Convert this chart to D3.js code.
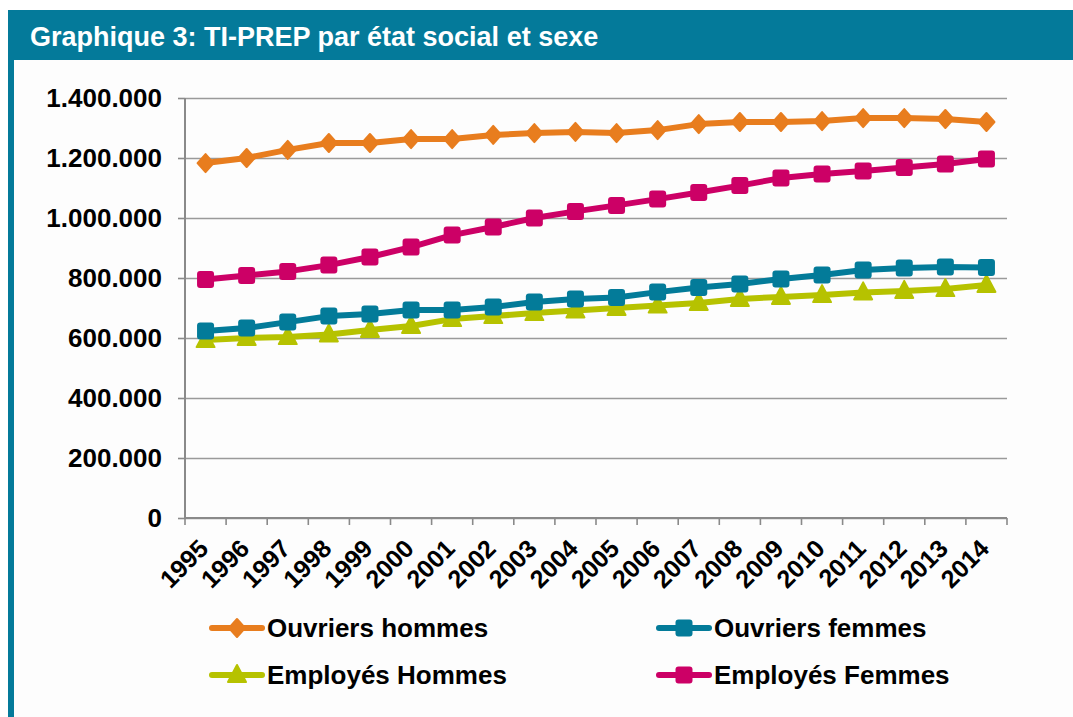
<!DOCTYPE html>
<html lang="fr">
<head>
<meta charset="UTF-8">
<script src="https://cdnjs.cloudflare.com/ajax/libs/d3/7.8.5/d3.min.js"></script>
<title>Graphique 3</title>
<style>
  body { margin: 0; background: #fff; }
  svg text { font-family: "Liberation Sans", Arial, sans-serif; font-weight: bold; }
</style>
</head>
<body>
<div id="chart"></div>
<script>
  // data
  var years = ["1995","1996","1997","1998","1999","2000","2001","2002","2003","2004",
               "2005","2006","2007","2008","2009","2010","2011","2012","2013","2014"];
  var ouvriersHommes = [1183000,1200000,1227000,1250000,1250000,1263000,1263000,1277000,1283000,1287000,
                        1283000,1293000,1313000,1320000,1320000,1323000,1333000,1333000,1330000,1320000];
  var ouvriersFemmes = [623000,633000,653000,673000,680000,693000,693000,703000,720000,730000,
                        735000,753000,768000,780000,797000,810000,827000,833000,837000,835000];
  var employesHommes = [593000,600000,603000,612000,627000,640000,663000,673000,683000,692000,
                        700000,708000,717000,730000,737000,743000,752000,757000,763000,777000];
  var employesFemmes = [795000,808000,822000,843000,870000,903000,943000,970000,1000000,1022000,
                        1042000,1063000,1085000,1108000,1133000,1147000,1157000,1168000,1180000,1197000];
  var yTicks = [0,200000,400000,600000,800000,1000000,1200000,1400000];

  var series = [
    {name:"Ouvriers hommes", values:ouvriersHommes, color:"#e87d1e", symbol:"diamond"},
    {name:"Ouvriers femmes", values:ouvriersFemmes, color:"#037b99", symbol:"square"},
    {name:"Employés Hommes", values:employesHommes, color:"#b6c200", symbol:"triangle"},
    {name:"Employés Femmes", values:employesFemmes, color:"#cc0066", symbol:"square"}
  ];
  var drawOrder = [2,1,3,0];

  const width = 1073, height = 717;
  const margin = {top: 98, right: 66, bottom: 199, left: 185};
  const graphWidth = width - margin.left - margin.right;
  const graphHeight = height - margin.top - margin.bottom;

  const svg = d3.select("#chart").append("svg")
      .attr("width", width).attr("height", height);

  // frame and title bar
  svg.append("rect").attr("x",8).attr("y",10).attr("width",width-8).attr("height",height-10)
      .attr("fill","#fdfdfd");
  svg.append("rect").attr("x",8).attr("y",60).attr("width",6).attr("height",height-60)
      .attr("fill","#047a9a");
  svg.append("rect").attr("x",8).attr("y",10).attr("width",width-8).attr("height",50)
      .attr("fill","#047a9a");
  svg.append("text").attr("x",30).attr("y",46)
      .attr("fill","#fff").style("font-size","27px")
      .text("Graphique 3: TI-PREP par état social et sexe");

  const graph = svg.append("g")
      .attr("transform", `translate(${margin.left},${margin.top})`);

  var xScale = d3.scaleBand().domain(years).range([0, graphWidth]);
  var yScale = d3.scaleLinear().domain([0, 1400000]).range([graphHeight, 0]);

  var fmt = function(d){ return d3.format(",")(d).replace(/,/g, "."); };

  // grid
  graph.append("g").attr("class","grid")
      .call(d3.axisLeft(yScale).tickValues(yTicks).tickSize(-graphWidth).tickFormat(""))
      .call(g => g.select(".domain").remove())
      .call(g => g.selectAll("line").attr("stroke","#9a9a9a").attr("stroke-width",1.6));

  // y axis
  const gy = graph.append("g")
      .call(d3.axisLeft(yScale).tickValues(yTicks).tickSize(7).tickPadding(16).tickFormat(fmt));
  gy.select(".domain").attr("stroke","#8a8a8a").attr("stroke-width",2).attr("d",`M0,0V${graphHeight}`);
  gy.selectAll("line").attr("stroke","#8a8a8a").attr("stroke-width",1.6);
  gy.selectAll("text").attr("fill","#000").style("font-size","26px")
      .style("font-family","'Liberation Sans', Arial, sans-serif").style("font-weight","bold");

  // x axis
  const gx = graph.append("g").attr("transform",`translate(0,${graphHeight})`);
  gx.append("line").attr("x1",0).attr("x2",graphWidth).attr("stroke","#8a8a8a").attr("stroke-width",2);
  gx.selectAll("line.tk").data(years.concat(["end"])).enter().append("line").attr("class","tk")
      .attr("x1",(d,i) => i*xScale.bandwidth()).attr("x2",(d,i) => i*xScale.bandwidth())
      .attr("y1",0).attr("y2",7).attr("stroke","#8a8a8a").attr("stroke-width",1.6);
  gx.selectAll("text").data(years).enter().append("text")
      .attr("transform", d => `translate(${xScale(d)+xScale.bandwidth()/2-2},${26}) rotate(-45)`)
      .attr("text-anchor","end").attr("dy","0.35em").attr("fill","#000")
      .style("font-size","25px").text(d => d);

  // symbols
  function symbolPath(type) {
    if (type === "diamond") return "M0,-9L8,0L0,9L-8,0Z";
    if (type === "triangle") return "M0,-10L9,7L-9,7Z";
    return null;
  }
  function addMarker(sel, s, x, y) {
    if (s.symbol === "square") {
      sel.append("rect").attr("x",x-8.5).attr("y",y-8.5).attr("width",17).attr("height",17)
        .attr("rx",3).attr("fill",s.color);
    } else {
      sel.append("path").attr("d",symbolPath(s.symbol))
        .attr("transform",`translate(${x},${y})`).attr("fill",s.color)
        .attr("stroke",s.color).attr("stroke-width",2).attr("stroke-linejoin","round");
    }
  }

  var line = d3.line()
      .x((d,i) => xScale(years[i]) + xScale.bandwidth()/2)
      .y(d => yScale(d));

  drawOrder.forEach(function(k){
    var s = series[k];
    var g = graph.append("g");
    g.append("path").datum(s.values).attr("d",line)
      .attr("fill","none").attr("stroke",s.color).attr("stroke-width",6)
      .attr("stroke-linejoin","round");
    s.values.forEach(function(v,i){
      addMarker(g, s, xScale(years[i]) + xScale.bandwidth()/2, yScale(v));
    });
  });

  // legend
  var legendPos = [[212,628],[659,628],[212,675],[659,675]];
  series.forEach(function(s,i){
    var p = legendPos[i];
    var lg = svg.append("g");
    lg.append("line").attr("x1",p[0]).attr("x2",p[0]+50).attr("y1",p[1]).attr("y2",p[1])
      .attr("stroke",s.color).attr("stroke-width",6).attr("stroke-linecap","round");
    addMarker(lg, s, p[0]+25, p[1]);
    lg.append("text").attr("x",p[0]+55).attr("y",p[1]+9).attr("fill","#000")
      .style("font-size","26px").text(s.name);
  });
</script>
</body>
</html>
